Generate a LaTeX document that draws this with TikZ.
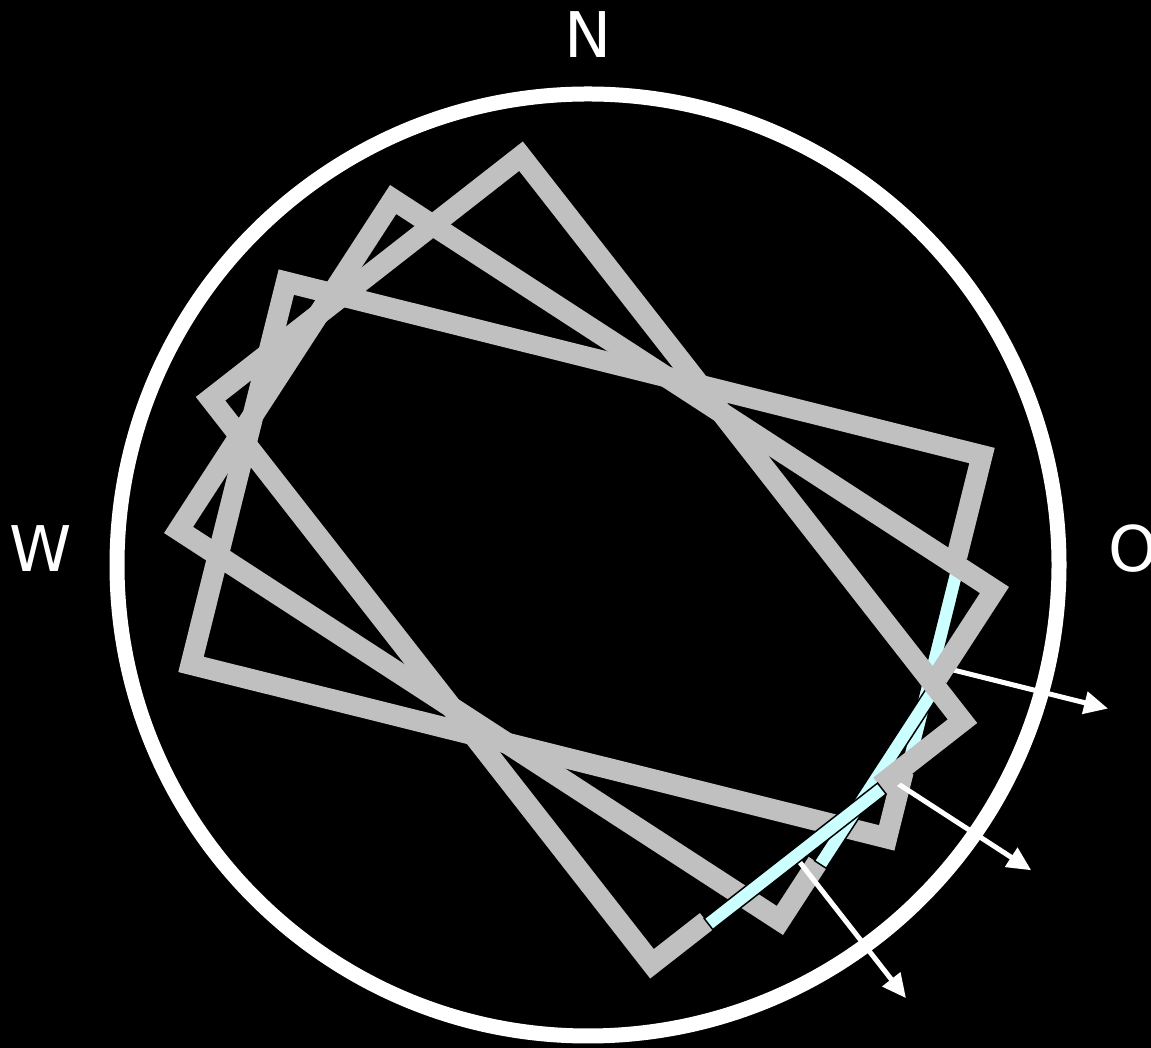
\documentclass[tikz,border=0pt]{standalone}
\usepackage{fontspec}
\setmainfont{DejaVu Sans}
\usetikzlibrary{arrows.meta}
\definecolor{wallgray}{RGB}{192,192,192}
\definecolor{glass}{RGB}{204,255,255}
\newcommand\drawroom[2]{%
  \begin{scope}[shift={(586.5,488)},rotate=#1]
    \coordinate (#2wc) at (362,-18);
    \coordinate (#2wt) at (542,-18);
    \draw[facing] (#2wc) -- (#2wt);
    \draw[wall] (358.5,92) -- (358.5,197) -- (-358.5,197) -- (-358.5,-197) -- (358.5,-197) -- (358.5,-128);
    \draw[pane] (355,-128) rectangle (369,92);
  \end{scope}}
\begin{document}
\begin{tikzpicture}[x=1pt,y=1pt,
  wall/.style={draw=wallgray,line width=21pt,line join=miter,line cap=butt},
  pane/.style={fill=glass,draw=black,line width=1.5pt},
  facing/.style={draw=white,line width=5pt,-{Triangle[length=24pt,width=22pt]}},
  compass/.style={text=white,font=\fontsize{63}{70}\selectfont,anchor=base,inner sep=0pt}]
\useasboundingbox (0,0) rectangle (1151,1048);
\clip (0,0) rectangle (1151,1048);
\fill[black] (0,0) rectangle (1151,1048);
\draw[white,line width=15pt] (588,483) circle[radius=471];
\node[compass] (north) at (588,990) {N};
\node[compass] (west) at (41,476) {W};
\node[compass] (east) at (1133,476) {O};
\drawroom{-14}{c}
\drawroom{-33}{b}
\drawroom{-52}{a}
\end{tikzpicture}
\end{document}
